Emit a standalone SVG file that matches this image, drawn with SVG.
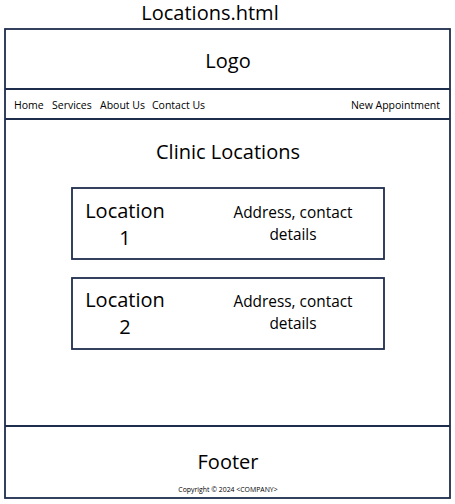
<svg xmlns="http://www.w3.org/2000/svg" width="455" height="504" viewBox="0 0 455 504">
  <style>
    .frame { fill: #ffffff; stroke: #1f2d4d; stroke-width: 1.8; }
    .rule { stroke: #1f2d4d; stroke-width: 1.8; }
    text { font-family: "Open Sans", "Liberation Sans", sans-serif; fill: #000000; }
    .big { font-size: 20px; }
    .nav { font-size: 10.5px; }
    .detail { font-size: 15.4px; }
    .small { font-size: 6.9px; }
  </style>
  <rect width="455" height="504" fill="#ffffff"/>

  <text class="big" x="210" y="20" text-anchor="middle">Locations.html</text>

  <g id="page">
    <rect class="frame" x="5" y="29" width="445" height="469"/>
  </g>

  <g id="header">
    <text class="big" x="228" y="68" text-anchor="middle">Logo</text>
    <line class="rule" x1="5" y1="89" x2="450" y2="89"/>
  </g>

  <g id="nav">
    <text class="nav" x="14" y="109">Home</text>
    <text class="nav" x="52" y="109">Services</text>
    <text class="nav" x="100" y="109">About Us</text>
    <text class="nav" x="152" y="109">Contact Us</text>
    <text class="nav" x="440" y="109" text-anchor="end">New Appointment</text>
    <line class="rule" x1="5" y1="119" x2="450" y2="119"/>
  </g>

  <g id="heading">
    <text class="big" x="228" y="159" text-anchor="middle">Clinic Locations</text>
  </g>

  <g id="location1">
    <rect class="frame" x="72" y="188" width="312" height="71"/>
    <text class="big" x="125" y="218" text-anchor="middle">Location</text>
    <text class="big" x="125" y="245" text-anchor="middle">1</text>
    <text class="detail" x="293" y="218" text-anchor="middle">Address, contact</text>
    <text class="detail" x="293" y="240" text-anchor="middle">details</text>
  </g>

  <g id="location2">
    <rect class="frame" x="72" y="278" width="312" height="71"/>
    <text class="big" x="125" y="307" text-anchor="middle">Location</text>
    <text class="big" x="125" y="334" text-anchor="middle">2</text>
    <text class="detail" x="293" y="307" text-anchor="middle">Address, contact</text>
    <text class="detail" x="293" y="329" text-anchor="middle">details</text>
  </g>

  <g id="footer">
    <line class="rule" x1="5" y1="426" x2="450" y2="426"/>
    <text class="big" x="228" y="469" text-anchor="middle">Footer</text>
    <text class="small" x="228" y="492" text-anchor="middle">Copyright © 2024 &lt;COMPANY&gt;</text>
  </g>
</svg>
